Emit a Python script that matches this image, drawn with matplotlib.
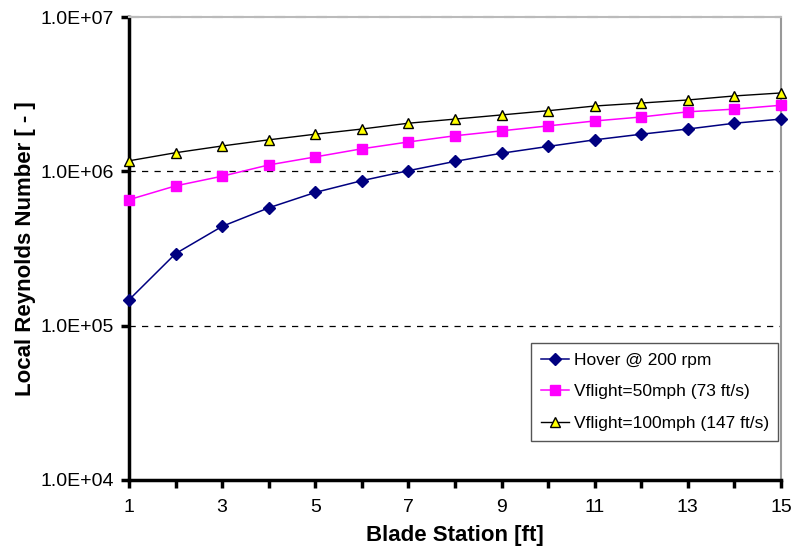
import matplotlib
matplotlib.use("Agg")
import matplotlib.pyplot as plt
from matplotlib.ticker import FixedLocator, NullLocator

plt.rcParams['font.family'] = ['Liberation Sans', 'DejaVu Sans']

stations = list(range(1, 16))
hover = [1.47e5, 2.93e5, 4.4e5, 5.8e5, 7.3e5, 8.7e5, 1.01e6, 1.16e6, 1.31e6,
         1.45e6, 1.6e6, 1.74e6, 1.88e6, 2.05e6, 2.18e6]
v50 = [6.55e5, 8.05e5, 9.3e5, 1.1e6, 1.24e6, 1.4e6, 1.55e6, 1.7e6, 1.83e6,
       1.97e6, 2.12e6, 2.25e6, 2.43e6, 2.53e6, 2.68e6]
v100 = [1.17e6, 1.32e6, 1.46e6, 1.6e6, 1.74e6, 1.88e6, 2.05e6, 2.18e6, 2.32e6,
        2.47e6, 2.65e6, 2.77e6, 2.9e6, 3.08e6, 3.22e6]
labels = ["Hover @ 200 rpm", "Vflight=50mph (73 ft/s)", "Vflight=100mph (147 ft/s)"]
y_ticks = [1e4, 1e5, 1e6, 1e7]
y_ticklabels = ["1.0E+04", "1.0E+05", "1.0E+06", "1.0E+07"]
x_ticklabels = [1, 3, 5, 7, 9, 11, 13, 15]

fig = plt.figure(figsize=(7.94, 5.52), dpi=100)
ax = fig.add_axes([129/794, 1-480/552, (781-129)/794, (480-17)/552])

ax.plot(stations, hover, color='#000080', marker='D', markersize=6, lw=1.1,
        markeredgecolor='#000080', label=labels[0], clip_on=False, zorder=3)
ax.plot(stations, v50, color='#FF00FF', marker='s', markersize=7, lw=1.1,
        markeredgecolor='#FF00FF', label=labels[1], clip_on=False, zorder=3)
ax.plot(stations, v100, color='black', marker='^', markersize=7.5, lw=1.0,
        markerfacecolor='#FFFF00', markeredgecolor='black', markeredgewidth=1.0,
        label=labels[2], clip_on=False, zorder=3)

ax.set_yscale('log')
ax.set_ylim(1e4, 1e7)
ax.set_xlim(1, 15)
ax.yaxis.set_major_locator(FixedLocator(y_ticks))
ax.yaxis.set_minor_locator(NullLocator())
ax.set_yticklabels(y_ticklabels)
ax.set_xticks(stations, minor=False)
ax.set_xticklabels([str(s) if s in x_ticklabels else "" for s in stations])

for y in [1e5, 1e6]:
    ax.axhline(y, color='black', lw=0.9, ls=(0, (5, 5)), zorder=0)

for s in ['left', 'bottom']:
    ax.spines[s].set_linewidth(2.5)
    ax.spines[s].set_color('black')
ax.spines['right'].set_linewidth(1.5)
ax.spines['right'].set_color('#999999')
ax.spines['top'].set_linewidth(1.5)
ax.spines['top'].set_color('#bbbbbb')
ax.axhline(1e7, color='#666666', lw=1.5, ls=(0, (5, 5)), zorder=1, clip_on=False)

ax.tick_params(axis='both', direction='out', length=6, width=2.5, labelsize=14, pad=8)
ax.tick_params(axis='y', pad=5)

ax.set_xlabel("Blade Station [ft]", fontsize=16, fontweight='bold', labelpad=6)
ax.set_ylabel("Local Reynolds Number [ - ]", fontsize=16, fontweight='bold', labelpad=3)

leg = ax.legend(loc='lower right', bbox_to_anchor=(0.996, 0.085), fontsize=12.5,
                frameon=True, fancybox=False, edgecolor='#555555', framealpha=1,
                handlelength=1.6, borderpad=0.55, labelspacing=0.95, handletextpad=0.3,
                borderaxespad=0)
leg.get_frame().set_linewidth(1.0)

fig.savefig("out.png", dpi=100)
